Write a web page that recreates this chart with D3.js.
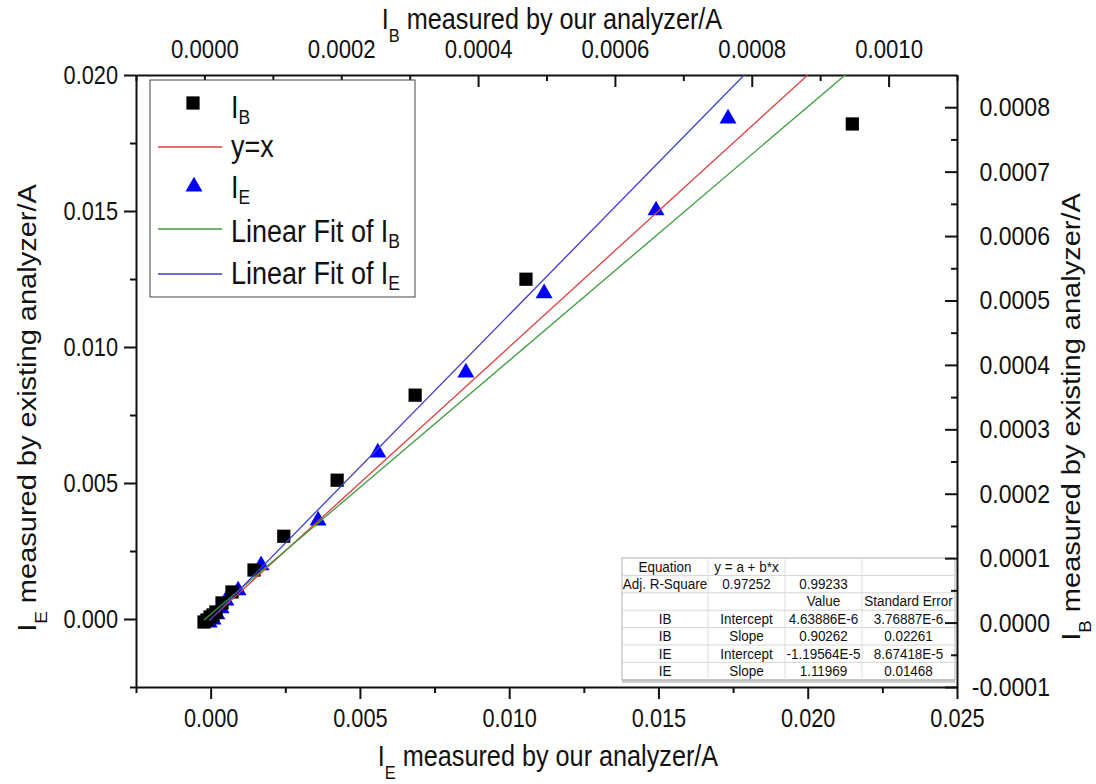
<!DOCTYPE html>
<html>
<head>
<meta charset="utf-8">
<script src="https://cdn.jsdelivr.net/npm/d3@7"></script>
<style>
  body { margin: 0; background: #fff; }
  svg { display: block; }
  text { font-family: "Liberation Sans", Arial, sans-serif; fill: #111; }
</style>
</head>
<body>
<svg id="chart" width="1096" height="784"></svg>
<script>
// I_E: our analyzer (bottom axis) vs existing analyzer (left axis), in A
const ieOurs     = [0.01733, 0.01492, 0.01117, 0.00855, 0.00560, 0.00360, 0.00169, 0.00092, 0.00051, 0.00035, 0.00021, 0.00008, -0.00005];
const ieExisting = [0.01840, 0.01502, 0.01197, 0.00906, 0.00612, 0.00362, 0.00197, 0.00105, 0.00068, 0.00039, 0.00017, -0.00002, -0.00013];

// I_B: our analyzer (top axis) vs existing analyzer (right axis), in A
const ibOurs     = [0.000947, 0.000470, 0.000308, 0.000194, 0.000116, 0.0000725, 0.0000403, 0.0000257, 0.0000169, 0.0000125, 0.0000082, 0.0000038, -0.0000006];
const ibExisting = [0.000774, 0.000533, 0.000353, 0.000221, 0.000134, 0.0000816, 0.0000475, 0.0000305, 0.0000165, 0.0000118, 0.0000087, 0.0000040, 0.0000009];

// Linear fit results (IB, IE)
const fitNames        = ["IB", "IE"];
const fitIntercept    = [4.63886e-6, -1.19564e-5];
const fitInterceptErr = [3.76887e-6, 8.67418e-5];
const fitSlope        = [0.90262, 1.11969];
const fitSlopeErr     = [0.02261, 0.01468];
const adjRSquare      = [0.97252, 0.99233];

// Tick values
const bottomTicks = [0, 0.005, 0.010, 0.015, 0.020, 0.025];
const bottomMinor = [-0.0025, 0.0025, 0.0075, 0.0125, 0.0175, 0.0225];
const leftTicks   = [0, 0.005, 0.010, 0.015, 0.020];
const leftMinor   = [-0.0025, 0.0025, 0.0075, 0.0125, 0.0175];
const topTicks    = [0, 0.0002, 0.0004, 0.0006, 0.0008, 0.0010];
const topMinor    = [-0.0001, 0.0001, 0.0003, 0.0005, 0.0007, 0.0009, 0.0011];
const rightTicks  = [-0.0001, 0, 0.0001, 0.0002, 0.0003, 0.0004, 0.0005, 0.0006, 0.0007, 0.0008];
const rightMinor  = [-0.00005, 0.00005, 0.00015, 0.00025, 0.00035, 0.00045, 0.00055, 0.00065, 0.00075];

// Legend entries: [main text, subscript]
const legendLabels = [["I", "B"], ["y=x", ""], ["I", "E"], ["Linear Fit of I", "B"], ["Linear Fit of I", "E"]];

// ---------------------------------------------------------------
const SX = 0.87;                 // horizontal glyph compression
const FONT = '"Liberation Sans", Arial, sans-serif';
const plot = { left: 136, right: 957, top: 75, bottom: 687 };

const svg = d3.select("#chart");

const xB = d3.scaleLinear().domain([-0.0025, 0.025]).range([plot.left, plot.right]);
const yL = d3.scaleLinear().domain([-0.0025, 0.020]).range([plot.bottom, plot.top]);
const xT = d3.scaleLinear().domain([-0.0001, 0.0011]).range([plot.left, plot.right]);
const yR = d3.scaleLinear().domain([-0.0001, 0.00085]).range([plot.bottom, plot.top]);

svg.append("defs").append("clipPath").attr("id", "plotClip")
  .append("rect")
  .attr("x", plot.left).attr("y", plot.top)
  .attr("width", plot.right - plot.left).attr("height", plot.bottom - plot.top);

// text with optional subscript parts, squeezed horizontally
function richText(parent, opt) {
  const size = opt.size;
  let tf = `translate(${opt.x},${opt.y}) scale(${SX},1)`;
  if (opt.rotate) tf += ` rotate(${opt.rotate})`;
  const t = parent.append("text")
    .attr("transform", tf)
    .attr("font-size", size)
    .attr("text-anchor", opt.anchor || "start");
  const shift = (opt.subShift || 0.45) * size;
  let pending = 0;
  opt.parts.forEach(p => {
    if (typeof p === "string") {
      const s = t.append("tspan").text(p);
      if (pending) s.attr("dy", pending);
      pending = 0;
    } else {
      t.append("tspan").attr("font-size", size * 0.65).attr("dy", shift).text(p.sub);
      pending = -shift;
    }
  });
  return t;
}

// ---------------- stats table ----------------
const tableRows = [
  ["Equation", "y = a + b*x", "", ""],
  ["Adj. R-Square", adjRSquare[0].toFixed(5), adjRSquare[1].toFixed(5), ""],
  ["", "", "Value", "Standard Error"]
];
fitNames.forEach((n, i) => {
  tableRows.push([n, "Intercept", fitIntercept[i].toExponential(5).toUpperCase(),
                  fitInterceptErr[i].toExponential(5).toUpperCase()]);
  tableRows.push([n, "Slope", fitSlope[i].toFixed(5), fitSlopeErr[i].toFixed(5)]);
});

const colEdges = [622, 708, 785, 862, 955];
const rowTop = 558, rowH = 17.4;
const table = svg.append("g");
table.append("rect")
  .attr("x", colEdges[0]).attr("y", rowTop + 3)
  .attr("width", colEdges[4] - colEdges[0]).attr("height", rowH * tableRows.length)
  .attr("fill", "#c8c8c8");
table.append("rect")
  .attr("x", colEdges[0]).attr("y", rowTop)
  .attr("width", colEdges[4] - colEdges[0]).attr("height", rowH * tableRows.length)
  .attr("fill", "#fff").attr("stroke", "#b0b0b0").attr("stroke-width", 1);
d3.range(1, tableRows.length).forEach(r => {
  table.append("line")
    .attr("x1", colEdges[0]).attr("x2", colEdges[4])
    .attr("y1", rowTop + r * rowH).attr("y2", rowTop + r * rowH)
    .attr("stroke", "#d6d6d6").attr("stroke-width", 1);
});
colEdges.slice(1, 4).forEach(cx => {
  table.append("line")
    .attr("x1", cx).attr("x2", cx)
    .attr("y1", rowTop).attr("y2", rowTop + rowH * tableRows.length)
    .attr("stroke", "#dedede").attr("stroke-width", 1);
});
tableRows.forEach((row, r) => {
  row.forEach((cell, c) => {
    if (!cell) return;
    const cx = (colEdges[c] + colEdges[c + 1]) / 2;
    richText(table, { x: cx, y: rowTop + r * rowH + 13.5, size: 15.5, anchor: "middle", parts: [cell] })
      .attr("fill", "#222");
  });
});

// ---------------- axes ----------------
function styleAxis(g, fontSize) {
  g.attr("font-family", FONT).attr("font-size", fontSize);
  g.select(".domain").attr("stroke", "#111").attr("stroke-width", 2);
  g.selectAll(".tick line").attr("stroke", "#111").attr("stroke-width", 2);
  g.selectAll(".tick text").attr("fill", "#111").each(function () {
    const t = d3.select(this);
    const x = +(t.attr("x") || 0), y = +(t.attr("y") || 0);
    t.attr("x", null).attr("y", null).attr("transform", `translate(${x},${y}) scale(${SX},1)`);
  });
}
function minorAxis(axis, pos) {
  const g = svg.append("g").attr("transform", pos)
    .call(axis.tickFormat("").tickSizeOuter(0));
  g.select(".domain").remove();
  g.selectAll(".tick line").attr("stroke", "#111").attr("stroke-width", 2);
}

// bottom: I_E ours
const gB = svg.append("g").attr("transform", `translate(0,${plot.bottom})`)
  .call(d3.axisBottom(xB).tickValues(bottomTicks).tickFormat(d => d.toFixed(3))
    .tickSize(12).tickSizeOuter(0).tickPadding(10));
styleAxis(gB, 25);
minorAxis(d3.axisBottom(xB).tickValues(bottomMinor).tickSize(6), `translate(0,${plot.bottom})`);

// left: I_E existing
const gL = svg.append("g").attr("transform", `translate(${plot.left},0)`)
  .call(d3.axisLeft(yL).tickValues(leftTicks).tickFormat(d => d.toFixed(3))
    .tickSize(12).tickSizeOuter(0).tickPadding(6));
styleAxis(gL, 25);
minorAxis(d3.axisLeft(yL).tickValues(leftMinor).tickSize(6), `translate(${plot.left},0)`);

// top: I_B ours (ticks inward)
const gT = svg.append("g").attr("transform", `translate(0,${plot.top})`)
  .call(d3.axisTop(xT).tickValues(topTicks).tickFormat(d => d.toFixed(4))
    .tickSizeInner(-12).tickSizeOuter(0).tickPadding(17));
styleAxis(gT, 25.5);
minorAxis(d3.axisTop(xT).tickValues(topMinor).tickSize(-6), `translate(0,${plot.top})`);

// right: I_B existing (ticks inward)
const gR = svg.append("g").attr("transform", `translate(${plot.right},0)`)
  .call(d3.axisRight(yR).tickValues(rightTicks).tickFormat(d => d.toFixed(4))
    .tickSizeInner(-12).tickSizeOuter(0).tickPadding(10));
gR.selectAll(".tick text").attr("text-anchor", "end").attr("x", 93);
styleAxis(gR, 26.5);
minorAxis(d3.axisRight(yR).tickValues(rightMinor).tickSize(-6), `translate(${plot.right},0)`);

// axis titles
richText(svg, { x: 552, y: 29, size: 29, anchor: "middle",
  parts: ["I", { sub: "B" }, " measured by our analyzer/A"] });
richText(svg, { x: 548, y: 766, size: 29, anchor: "middle",
  parts: ["I", { sub: "E" }, " measured by our analyzer/A"] });
richText(svg, { x: 36, y: 408, size: 29, anchor: "middle", rotate: -90,
  parts: ["I", { sub: "E" }, " measured by existing analyzer/A"] });
richText(svg, { x: 1080, y: 417, size: 29, anchor: "middle", rotate: -90,
  parts: ["I", { sub: "B" }, " measured by existing analyzer/A"] });

// ---------------- data marks ----------------
const marks = svg.append("g").attr("clip-path", "url(#plotClip)");
const triangle = d3.symbol().type(d3.symbolTriangle).size(125);
const square = d3.symbol().type(d3.symbolSquare).size(175);

marks.append("g").selectAll("path")
  .data(d3.zip(ieOurs, ieExisting))
  .join("path")
  .attr("d", triangle)
  .attr("transform", d => `translate(${xB(d[0])},${yL(d[1])})`)
  .attr("fill", "#0000ff");

marks.append("g").selectAll("path")
  .data(d3.zip(ibOurs, ibExisting))
  .join("path")
  .attr("d", square)
  .attr("transform", d => `translate(${xT(d[0])},${yR(d[1])})`)
  .attr("fill", "#000");

// reference and fit lines
const ieStart = d3.min(ieOurs), ibStart = d3.min(ibOurs);
const lineB = d3.line().x(d => xB(d[0])).y(d => yL(d[1]));
const lineT = d3.line().x(d => xT(d[0])).y(d => yR(d[1]));
const xEndB = xB.domain()[1], xEndT = xT.domain()[1];

marks.append("path")
  .attr("d", lineB([[ieStart, ieStart], [xEndB, xEndB]]))
  .attr("fill", "none").attr("stroke", "#e03c3c").attr("stroke-width", 1.3);
marks.append("path")
  .attr("d", lineT([[ibStart, fitIntercept[0] + fitSlope[0] * ibStart], [xEndT, fitIntercept[0] + fitSlope[0] * xEndT]]))
  .attr("fill", "none").attr("stroke", "#3c9c3c").attr("stroke-width", 1.3);
marks.append("path")
  .attr("d", lineB([[ieStart, fitIntercept[1] + fitSlope[1] * ieStart], [xEndB, fitIntercept[1] + fitSlope[1] * xEndB]]))
  .attr("fill", "none").attr("stroke", "#3c3cd0").attr("stroke-width", 1.3);

// ---------------- legend ----------------
const legend = svg.append("g");
legend.append("rect")
  .attr("x", 150).attr("y", 80).attr("width", 265).attr("height", 217)
  .attr("fill", "#fff").attr("stroke", "#444").attr("stroke-width", 1);

const rowMark = [103, 147, 184, 229, 274];
const rowBase = [118, 157, 198, 242, 284];
const legendKinds = ["square", "line", "triangle", "line", "line"];
const legendColors = ["#000", "#e03c3c", "#0000ff", "#3c9c3c", "#3c3cd0"];

legendLabels.forEach((lab, i) => {
  const kind = legendKinds[i];
  if (kind === "square") {
    legend.append("path").attr("d", square).attr("transform", `translate(193,${rowMark[i]})`).attr("fill", legendColors[i]);
  } else if (kind === "triangle") {
    legend.append("path").attr("d", triangle).attr("transform", `translate(194,${rowMark[i] + 2.5})`).attr("fill", legendColors[i]);
  } else {
    legend.append("line").attr("x1", 158).attr("x2", 222).attr("y1", rowMark[i]).attr("y2", rowMark[i])
      .attr("stroke", legendColors[i]).attr("stroke-width", 1.3);
  }
  const parts = lab[1] ? [lab[0], { sub: lab[1] }] : [lab[0]];
  richText(legend, { x: 231, y: rowBase[i], size: 31, parts, subShift: 0.2 });
});
</script>
</body>
</html>
